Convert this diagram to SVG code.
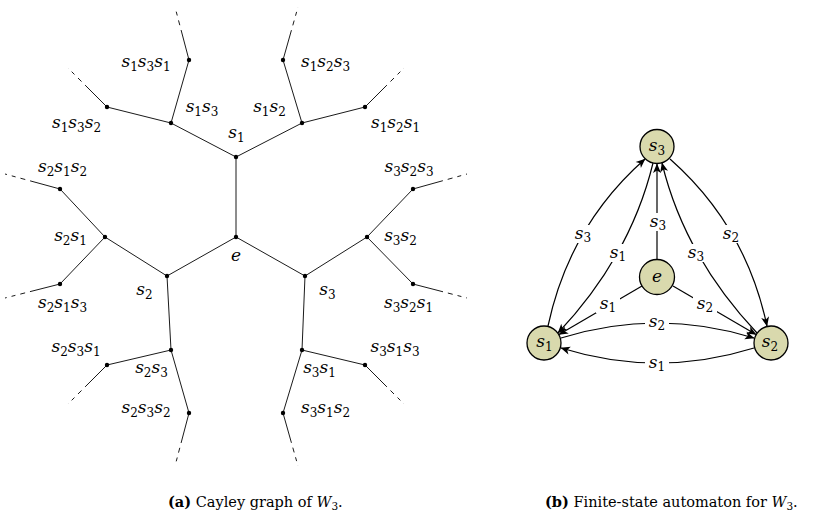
<svg xmlns="http://www.w3.org/2000/svg" width="819" height="519" viewBox="0 0 819 519">
<style>
.m{font-family:"DejaVu Serif",serif;font-style:italic;font-size:17px;text-anchor:middle;fill:#000}
.b{font-style:normal;font-size:12px}
.t{stroke:#000;stroke-width:0.9;fill:none}
.d{stroke:#000;stroke-width:0.9;fill:none;stroke-dasharray:31 5 5 5 4 5}
.dot{fill:#000}
.st{fill:#d9d9ad;stroke:#000;stroke-width:1.3}
.e{stroke:#000;stroke-width:1.2;fill:none;marker-end:url(#ar)}
.bg{fill:#fff}
.cap{font-family:"DejaVu Serif",serif;font-size:14.5px;fill:#000}
</style>
<defs>
<marker id="ar" viewBox="-10 -5 11 10" refX="0" refY="0" markerWidth="11" markerHeight="10" orient="auto" markerUnits="userSpaceOnUse">
<path d="M0.5,0 L-9,-4 L-6.5,0 L-9,4 z" fill="#000"/>
</marker>
</defs>

<g id="cayley-edges">
<line class="t" x1="236" y1="237" x2="236" y2="157"/>
<line class="t" x1="236" y1="237" x2="167" y2="276"/>
<line class="t" x1="236" y1="237" x2="305" y2="276"/>
<line class="t" x1="236" y1="157" x2="171" y2="123"/>
<line class="t" x1="236" y1="157" x2="302" y2="123"/>
<line class="t" x1="171" y1="123" x2="189" y2="60"/>
<line class="t" x1="171" y1="123" x2="107" y2="107"/>
<line class="t" x1="302" y1="123" x2="283" y2="60"/>
<line class="t" x1="302" y1="123" x2="365" y2="107"/>
<line class="t" x1="167" y1="276" x2="105" y2="237"/>
<line class="t" x1="167" y1="276" x2="171" y2="350"/>
<line class="t" x1="105" y1="237" x2="60" y2="189"/>
<line class="t" x1="105" y1="237" x2="60" y2="284"/>
<line class="t" x1="171" y1="350" x2="107" y2="365"/>
<line class="t" x1="171" y1="350" x2="189" y2="413"/>
<line class="t" x1="305" y1="276" x2="367" y2="237"/>
<line class="t" x1="305" y1="276" x2="302" y2="350"/>
<line class="t" x1="367" y1="237" x2="413" y2="189"/>
<line class="t" x1="367" y1="237" x2="413" y2="284"/>
<line class="t" x1="302" y1="350" x2="365" y2="365"/>
<line class="t" x1="302" y1="350" x2="283" y2="413"/>
<line class="d" x1="189" y1="60" x2="175" y2="7"/>
<line class="d" x1="107" y1="107" x2="68" y2="68"/>
<line class="d" x1="283" y1="60" x2="298" y2="7"/>
<line class="d" x1="365" y1="107" x2="404" y2="68"/>
<line class="d" x1="60" y1="189" x2="5" y2="174"/>
<line class="d" x1="60" y1="284" x2="5" y2="298"/>
<line class="d" x1="413" y1="189" x2="467" y2="174"/>
<line class="d" x1="413" y1="284" x2="467" y2="298"/>
<line class="d" x1="107" y1="365" x2="68" y2="404"/>
<line class="d" x1="189" y1="413" x2="175" y2="466"/>
<line class="d" x1="365" y1="365" x2="404" y2="404"/>
<line class="d" x1="283" y1="413" x2="298" y2="466"/>
</g>

<g id="n-e"><circle class="dot" cx="236" cy="237" r="2.2"/><text class="m" x="236" y="261">e</text></g>
<g id="n-s1"><circle class="dot" cx="236" cy="157" r="2.2"/><text class="m" x="236.5" y="138">s<tspan class="b" dy="3.5">1</tspan></text></g>
<g id="n-s2"><circle class="dot" cx="167" cy="276" r="2.2"/><text class="m" x="144.5" y="295">s<tspan class="b" dy="3.5">2</tspan></text></g>
<g id="n-s3"><circle class="dot" cx="305" cy="276" r="2.2"/><text class="m" x="327.5" y="295">s<tspan class="b" dy="3.5">3</tspan></text></g>
<g id="n-s1s3"><circle class="dot" cx="171" cy="123" r="2.2"/><text class="m" x="202" y="112">s<tspan class="b" dy="3.5">1</tspan><tspan dy="-3.5">s</tspan><tspan class="b" dy="3.5">3</tspan></text></g>
<g id="n-s1s2"><circle class="dot" cx="302" cy="123" r="2.2"/><text class="m" x="269.5" y="112">s<tspan class="b" dy="3.5">1</tspan><tspan dy="-3.5">s</tspan><tspan class="b" dy="3.5">2</tspan></text></g>
<g id="n-s1s3s1"><circle class="dot" cx="189" cy="60" r="2.2"/><text class="m" x="146" y="67">s<tspan class="b" dy="3.5">1</tspan><tspan dy="-3.5">s</tspan><tspan class="b" dy="3.5">3</tspan><tspan dy="-3.5">s</tspan><tspan class="b" dy="3.5">1</tspan></text></g>
<g id="n-s1s3s2"><circle class="dot" cx="107" cy="107" r="2.2"/><text class="m" x="76.5" y="128">s<tspan class="b" dy="3.5">1</tspan><tspan dy="-3.5">s</tspan><tspan class="b" dy="3.5">3</tspan><tspan dy="-3.5">s</tspan><tspan class="b" dy="3.5">2</tspan></text></g>
<g id="n-s1s2s3"><circle class="dot" cx="283" cy="60" r="2.2"/><text class="m" x="325.5" y="67">s<tspan class="b" dy="3.5">1</tspan><tspan dy="-3.5">s</tspan><tspan class="b" dy="3.5">2</tspan><tspan dy="-3.5">s</tspan><tspan class="b" dy="3.5">3</tspan></text></g>
<g id="n-s1s2s1"><circle class="dot" cx="365" cy="107" r="2.2"/><text class="m" x="395.5" y="128">s<tspan class="b" dy="3.5">1</tspan><tspan dy="-3.5">s</tspan><tspan class="b" dy="3.5">2</tspan><tspan dy="-3.5">s</tspan><tspan class="b" dy="3.5">1</tspan></text></g>
<g id="n-s2s1"><circle class="dot" cx="105" cy="237" r="2.2"/><text class="m" x="70.5" y="241">s<tspan class="b" dy="3.5">2</tspan><tspan dy="-3.5">s</tspan><tspan class="b" dy="3.5">1</tspan></text></g>
<g id="n-s2s1s2"><circle class="dot" cx="60" cy="189" r="2.2"/><text class="m" x="62.5" y="172">s<tspan class="b" dy="3.5">2</tspan><tspan dy="-3.5">s</tspan><tspan class="b" dy="3.5">1</tspan><tspan dy="-3.5">s</tspan><tspan class="b" dy="3.5">2</tspan></text></g>
<g id="n-s2s1s3"><circle class="dot" cx="60" cy="284" r="2.2"/><text class="m" x="62.5" y="308">s<tspan class="b" dy="3.5">2</tspan><tspan dy="-3.5">s</tspan><tspan class="b" dy="3.5">1</tspan><tspan dy="-3.5">s</tspan><tspan class="b" dy="3.5">3</tspan></text></g>
<g id="n-s2s3"><circle class="dot" cx="171" cy="350" r="2.2"/><text class="m" x="151.5" y="373">s<tspan class="b" dy="3.5">2</tspan><tspan dy="-3.5">s</tspan><tspan class="b" dy="3.5">3</tspan></text></g>
<g id="n-s2s3s1"><circle class="dot" cx="107" cy="365" r="2.2"/><text class="m" x="76" y="352">s<tspan class="b" dy="3.5">2</tspan><tspan dy="-3.5">s</tspan><tspan class="b" dy="3.5">3</tspan><tspan dy="-3.5">s</tspan><tspan class="b" dy="3.5">1</tspan></text></g>
<g id="n-s2s3s2"><circle class="dot" cx="189" cy="413" r="2.2"/><text class="m" x="146" y="413">s<tspan class="b" dy="3.5">2</tspan><tspan dy="-3.5">s</tspan><tspan class="b" dy="3.5">3</tspan><tspan dy="-3.5">s</tspan><tspan class="b" dy="3.5">2</tspan></text></g>
<g id="n-s3s2"><circle class="dot" cx="367" cy="237" r="2.2"/><text class="m" x="400.5" y="241">s<tspan class="b" dy="3.5">3</tspan><tspan dy="-3.5">s</tspan><tspan class="b" dy="3.5">2</tspan></text></g>
<g id="n-s3s2s3"><circle class="dot" cx="413" cy="189" r="2.2"/><text class="m" x="409" y="172">s<tspan class="b" dy="3.5">3</tspan><tspan dy="-3.5">s</tspan><tspan class="b" dy="3.5">2</tspan><tspan dy="-3.5">s</tspan><tspan class="b" dy="3.5">3</tspan></text></g>
<g id="n-s3s2s1"><circle class="dot" cx="413" cy="284" r="2.2"/><text class="m" x="408.5" y="308">s<tspan class="b" dy="3.5">3</tspan><tspan dy="-3.5">s</tspan><tspan class="b" dy="3.5">2</tspan><tspan dy="-3.5">s</tspan><tspan class="b" dy="3.5">1</tspan></text></g>
<g id="n-s3s1"><circle class="dot" cx="302" cy="350" r="2.2"/><text class="m" x="319.5" y="373">s<tspan class="b" dy="3.5">3</tspan><tspan dy="-3.5">s</tspan><tspan class="b" dy="3.5">1</tspan></text></g>
<g id="n-s3s1s3"><circle class="dot" cx="365" cy="365" r="2.2"/><text class="m" x="395" y="352">s<tspan class="b" dy="3.5">3</tspan><tspan dy="-3.5">s</tspan><tspan class="b" dy="3.5">1</tspan><tspan dy="-3.5">s</tspan><tspan class="b" dy="3.5">3</tspan></text></g>
<g id="n-s3s1s2"><circle class="dot" cx="283" cy="413" r="2.2"/><text class="m" x="325.5" y="413">s<tspan class="b" dy="3.5">3</tspan><tspan dy="-3.5">s</tspan><tspan class="b" dy="3.5">1</tspan><tspan dy="-3.5">s</tspan><tspan class="b" dy="3.5">2</tspan></text></g>

<g id="fsa-edges">
<path class="e" d="M657,259.5 L657,164"/>
<path class="e" d="M642,286 L559,334.5"/>
<path class="e" d="M673,286 L756,334.5"/>
<path class="e" d="M561,338 Q657.5,308 754,338"/>
<path class="e" d="M754,348 Q657.5,378 561,348"/>
<path class="e" d="M548,326 Q569.5,225.5 645,159"/>
<path class="e" d="M653,163 Q630.5,256 558,333"/>
<path class="e" d="M670,159 Q745.5,225.5 767,326"/>
<path class="e" d="M757,333 Q684.5,256 662,163"/>
<g id="fsa-labels">
<rect class="bg" x="646" y="213" width="24" height="18"/><text class="m" x="658" y="226.5">s<tspan class="b" dy="3.5">3</tspan></text>
<rect class="bg" x="571" y="225" width="24" height="18"/><text class="m" x="583" y="238.5">s<tspan class="b" dy="3.5">3</tspan></text>
<rect class="bg" x="606" y="244" width="24" height="18"/><text class="m" x="618" y="257.5">s<tspan class="b" dy="3.5">1</tspan></text>
<rect class="bg" x="719" y="225" width="24" height="18"/><text class="m" x="731" y="238.5">s<tspan class="b" dy="3.5">2</tspan></text>
<rect class="bg" x="684" y="244" width="24" height="18"/><text class="m" x="696" y="257.5">s<tspan class="b" dy="3.5">3</tspan></text>
<rect class="bg" x="596" y="295" width="24" height="18"/><text class="m" x="608" y="308.5">s<tspan class="b" dy="3.5">1</tspan></text>
<rect class="bg" x="693" y="295" width="24" height="18"/><text class="m" x="705" y="308.5">s<tspan class="b" dy="3.5">2</tspan></text>
<rect class="bg" x="645" y="313" width="24" height="18"/><text class="m" x="657" y="326.5">s<tspan class="b" dy="3.5">2</tspan></text>
<rect class="bg" x="645" y="354" width="24" height="18"/><text class="m" x="657" y="367.5">s<tspan class="b" dy="3.5">1</tspan></text>
</g>
</g>

<g id="q-s3"><circle class="st" cx="657" cy="146.5" r="17"/><text class="m" x="657" y="151">s<tspan class="b" dy="3.5">3</tspan></text></g>
<g id="q-e"><circle class="st" cx="657" cy="277" r="17.5"/><text class="m" x="657" y="282">e</text></g>
<g id="q-s1"><circle class="st" cx="544" cy="343" r="17"/><text class="m" x="544.5" y="347">s<tspan class="b" dy="3.5">1</tspan></text></g>
<g id="q-s2"><circle class="st" cx="771" cy="343" r="17"/><text class="m" x="770" y="347">s<tspan class="b" dy="3.5">2</tspan></text></g>

<g id="captions">
<text class="cap" x="168" y="507"><tspan font-weight="bold">(a)</tspan> Cayley graph of <tspan font-style="italic">W</tspan><tspan font-size="10.5px" dy="2.5">3</tspan><tspan dy="-2.5">.</tspan></text>
<text class="cap" x="545" y="507"><tspan font-weight="bold">(b)</tspan> Finite-state automaton for <tspan font-style="italic">W</tspan><tspan font-size="10.5px" dy="2.5">3</tspan><tspan dy="-2.5">.</tspan></text>
</g>
</svg>
